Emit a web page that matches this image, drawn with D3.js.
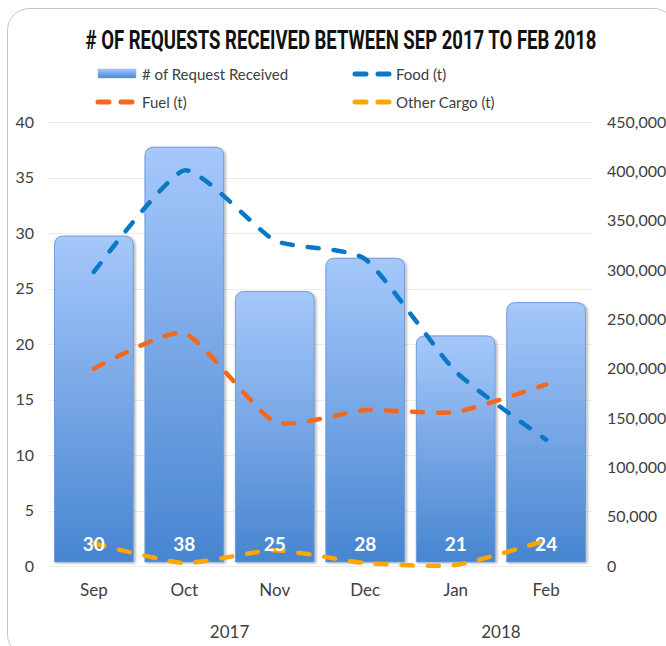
<!DOCTYPE html>
<html>
<head>
<meta charset="utf-8">
<script src="https://cdn.jsdelivr.net/npm/d3@7"></script>
<style>
  body { margin: 0; background: #fff; }
  text { font-family: Lato, 'Open Sans', sans-serif; }
</style>
</head>
<body>
<div id="root"></div>
<script>
const width = 666
const height = 646

// chart data
const months = ['Sep', 'Oct', 'Nov', 'Dec', 'Jan', 'Feb']
const yearLabels = ['2017', '2018']
const yearSpans = [['Sep', 'Dec'], ['Jan', 'Feb']]
const requests = [30, 38, 25, 28, 21, 24]
const food = [298000, 401000, 330000, 311000, 197000, 128000]
const fuel = [200000, 236000, 146000, 158000, 156000, 184000]
const otherCargo = [23000, 3000, 16000, 3000, 1000, 26000]
const leftTicks = [0, 5, 10, 15, 20, 25, 30, 35, 40]
const rightTicks = [0, 50000, 100000, 150000, 200000, 250000, 300000, 350000, 400000, 450000]

const series = [
  { name: 'Food (t)', values: food, color: '#0b78c6' },
  { name: 'Fuel (t)', values: fuel, color: '#f3681f' },
  { name: 'Other Cargo (t)', values: otherCargo, color: '#ffa602' },
]

const svg = d3.select('#root').append('svg').attr('width', width).attr('height', height)

const defs = svg.append('defs')
const grad = defs.append('linearGradient').attr('id', 'barGrad')
  .attr('x1', 0).attr('y1', 0).attr('x2', 0).attr('y2', 1)
grad.append('stop').attr('offset', '0%').attr('stop-color', '#a6c8fb')
grad.append('stop').attr('offset', '100%').attr('stop-color', '#4785d0')

defs.append('filter').attr('id', 'shadow')
  .attr('x', '-10%').attr('y', '-10%').attr('width', '130%').attr('height', '120%')
  .append('feDropShadow')
  .attr('dx', 2).attr('dy', 1).attr('stdDeviation', 1)
  .attr('flood-color', '#000').attr('flood-opacity', 0.25)

// frame
svg.append('rect')
  .attr('x', 7.5).attr('y', 8.5)
  .attr('width', 668).attr('height', 648)
  .attr('rx', 22)
  .attr('fill', '#fff')
  .attr('stroke', '#c4c4c4')
  .attr('stroke-width', 1)

const x = d3.scaleBand().domain(months).range([48, 592]).paddingInner(0.118).paddingOuter(0.066)
const y = d3.scaleLinear().domain([0, 40]).range([566, 122])
const y2 = d3.scaleLinear().domain([0, 450000]).range([566, 122])

// title - condensed by squeezing horizontally to the reference width
const title = svg.append('text')
  .attr('text-anchor', 'middle')
  .style('font-family', 'Roboto, sans-serif')
  .attr('font-weight', 'bold')
  .attr('font-size', 25)
  .attr('fill', '#111')
  .text('# OF REQUESTS RECEIVED BETWEEN SEP 2017 TO FEB 2018')
const titleW = title.node().getComputedTextLength()
title.attr('transform', `translate(341,49) scale(${511 / titleW},1)`)

// gridlines
svg.append('g')
  .selectAll('line')
  .data(leftTicks)
  .join('line')
  .attr('x1', 48).attr('x2', 592)
  .attr('y1', (d) => Math.round(y(d)) + 0.5)
  .attr('y2', (d) => Math.round(y(d)) + 0.5)
  .attr('stroke', '#ececec')

// axes (text only)
const axisL = svg.append('g')
  .attr('transform', 'translate(34,0)')
  .call(d3.axisLeft(y).tickValues(leftTicks).tickSize(0).tickPadding(0))
axisL.select('.domain').remove()
axisL.selectAll('text').attr('font-size', 16).attr('fill', '#404040').style('font-family', 'Lato, sans-serif')

const axisR = svg.append('g')
  .attr('transform', 'translate(607,0)')
  .call(d3.axisRight(y2).tickValues(rightTicks).tickFormat(d3.format(',')).tickSize(0).tickPadding(0))
axisR.select('.domain').remove()
axisR.selectAll('text').attr('font-size', 16).attr('fill', '#404040').style('font-family', 'Lato, sans-serif')

const axisB = svg.append('g')
  .attr('transform', 'translate(0,580)')
  .call(d3.axisBottom(x).tickSize(0).tickPadding(0))
axisB.select('.domain').remove()
axisB.selectAll('text').attr('font-size', 17).attr('fill', '#404040').attr('dy', '0.95em').style('font-family', 'Lato, sans-serif')

svg.append('g')
  .selectAll('text')
  .data(yearLabels)
  .join('text')
  .attr('x', (d, i) => (x(yearSpans[i][0]) + x(yearSpans[i][1]) + x.bandwidth()) / 2)
  .attr('y', 638)
  .attr('text-anchor', 'middle')
  .attr('font-size', 17)
  .attr('fill', '#404040')
  .text((d) => d)

// bars
function barPath(x0, y0, w, y1, r) {
  return `M${x0},${y1} L${x0},${y0 + r} Q${x0},${y0} ${x0 + r},${y0} L${x0 + w - r},${y0} Q${x0 + w},${y0} ${x0 + w},${y0 + r} L${x0 + w},${y1} Z`
}

svg.append('g')
  .selectAll('path')
  .data(requests)
  .join('path')
  .attr('d', (d, i) => barPath(x(months[i]) + 0.5, y(d) + 3, x.bandwidth() - 1, y(0) - 4, 9))
  .attr('fill', 'url(#barGrad)')
  .attr('stroke', '#6f9bd6')
  .attr('stroke-width', 1)
  .attr('filter', 'url(#shadow)')

// lines
const line = d3.line()
  .x((d, i) => x(months[i]) + x.bandwidth() / 2)
  .y((d) => y2(d))
  .curve(d3.curveCardinal.tension(0.45))

svg.append('g')
  .selectAll('path')
  .data(series)
  .join('path')
  .attr('d', (d) => line(d.values))
  .attr('fill', 'none')
  .attr('stroke', (d) => d.color)
  .attr('stroke-width', 4.5)
  .attr('stroke-linecap', 'round')
  .attr('stroke-dasharray', '11,15')

// data labels
svg.append('g')
  .selectAll('text')
  .data(requests)
  .join('text')
  .attr('x', (d, i) => x(months[i]) + x.bandwidth() / 2)
  .attr('y', y(0) - 15)
  .attr('text-anchor', 'middle')
  .attr('font-size', 19)
  .attr('font-weight', 'bold')
  .attr('fill', '#fff')
  .text((d) => d)

// legend
const legend = svg.append('g')
legend.append('rect')
  .attr('x', 98).attr('y', 69).attr('width', 38).attr('height', 9)
  .attr('fill', 'url(#barGrad)')
  .attr('stroke', '#8fb3e6').attr('stroke-width', 0.5)
legend.append('text')
  .attr('x', 142).attr('y', 80)
  .attr('font-size', 15).attr('fill', '#404040')
  .text('# of Request Received')

const legendPos = [
  { x: 353, y: 74, tx: 396 },
  { x: 96, y: 102, tx: 142 },
  { x: 353, y: 102, tx: 396 },
]
series.forEach((s, i) => {
  const p = legendPos[i]
  legend.append('line')
    .attr('x1', p.x + 2).attr('x2', p.x + 36)
    .attr('y1', p.y).attr('y2', p.y)
    .attr('stroke', s.color).attr('stroke-width', 5)
    .attr('stroke-linecap', 'round')
    .attr('stroke-dasharray', '11,12')
  legend.append('text')
    .attr('x', p.tx).attr('y', p.y + 6)
    .attr('font-size', 15).attr('fill', '#404040')
    .text(s.name)
})
</script>
</body>
</html>
